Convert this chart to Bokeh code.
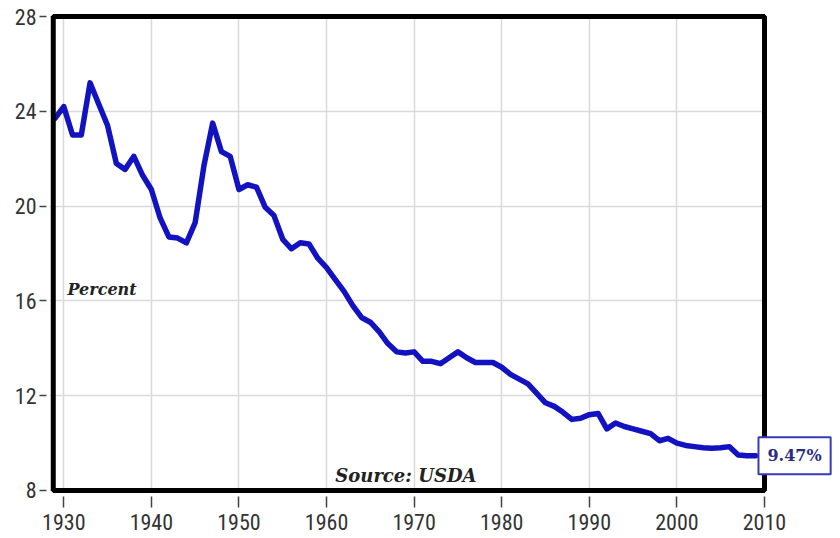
from bokeh.plotting import figure
from bokeh.models import Range1d, FixedTicker, Label, ColumnDataSource, BoxAnnotation
from bokeh.embed import file_html
from bokeh.resources import INLINE

years = list(range(1929, 2010))
percent = [
    23.7, 24.2, 23.0, 23.0, 25.2, 24.3, 23.4, 21.8, 21.55, 22.1,   # 1929-1938
    21.3, 20.7, 19.5, 18.7, 18.65, 18.45, 19.3, 21.7, 23.5, 22.3,  # 1939-1948
    22.1, 20.7, 20.9, 20.8, 19.95, 19.6, 18.6, 18.2, 18.45, 18.4,  # 1949-1958
    17.8, 17.4, 16.9, 16.4, 15.8, 15.3, 15.1, 14.7, 14.2, 13.85,   # 1959-1968
    13.8, 13.85, 13.45, 13.45, 13.35, 13.6, 13.85, 13.6, 13.4, 13.4,  # 1969-1978
    13.4, 13.2, 12.9, 12.7, 12.5, 12.1, 11.7, 11.55, 11.3, 11.0,   # 1979-1988
    11.05, 11.2, 11.25, 10.6, 10.85, 10.7, 10.6, 10.5, 10.4, 10.1, # 1989-1998
    10.2, 10.0, 9.9, 9.85, 9.8, 9.78, 9.8, 9.85, 9.5, 9.47,        # 1999-2008
    9.47,                                                           # 2009
]
x_ticks = [1930, 1940, 1950, 1960, 1970, 1980, 1990, 2000, 2010]
y_ticks = [8, 12, 16, 20, 24, 28]
last_label = "9.47%"
percent_label = "Percent"
source_label = "Source: USDA"

# visible chart box (data extent)
x_lo, x_hi = 1928.8, 2010
y_lo, y_hi = 8, 28

src = ColumnDataSource(dict(year=years, pct=percent))

p = figure(width=840, height=538, output_backend="svg", toolbar_location=None,
           x_range=Range1d(1928.37, 2018.68), y_range=Range1d(7.873, 28.127),
           min_border_left=49, min_border_right=0, min_border_top=13, min_border_bottom=45)
p.background_fill_color = "white"
p.border_fill_color = "white"
p.outline_line_color = None

p.xgrid.ticker = FixedTicker(ticks=x_ticks)
p.ygrid.ticker = FixedTicker(ticks=y_ticks)
for g in (p.xgrid[0], p.ygrid[0]):
    g.grid_line_color = "#d9d9d9"
    g.grid_line_width = 1.5

axis_font = "'Liberation Sans Narrow', 'Roboto Condensed', 'Liberation Sans'"
p.xaxis.ticker = FixedTicker(ticks=x_ticks)
p.yaxis.ticker = FixedTicker(ticks=y_ticks)
for ax in (p.xaxis[0], p.yaxis[0]):
    ax.axis_line_color = None
    ax.minor_tick_line_color = None
    ax.major_tick_line_color = "#444444"
    ax.major_tick_line_width = 1.5
    ax.major_label_text_font = axis_font
    ax.major_label_text_font_size = "22px"
    ax.major_label_text_color = "#333333"
p.xaxis.major_tick_in = -3
p.xaxis.major_tick_out = 14
p.xaxis.major_label_standoff = 6
p.yaxis.major_tick_in = -3
p.yaxis.major_tick_out = 10
p.yaxis.major_label_standoff = 3

p.line("year", "pct", source=src, line_color="#1212c0", line_width=5.5,
       line_join="round", line_cap="round")

# blank out the area right of the chart box, then draw the heavy black box
p.add_layout(BoxAnnotation(left=x_hi, fill_color="white", fill_alpha=1.0,
                           line_color=None))
p.add_layout(BoxAnnotation(left=x_lo, right=x_hi, bottom=y_lo, top=y_hi,
                           fill_color=None, fill_alpha=0, line_color="black",
                           line_width=5, line_alpha=1.0))

p.add_layout(Label(x=1930.42, y=16.48, text=percent_label, text_font="DejaVu Serif",
                   text_font_style="bold italic", text_font_size="16px",
                   text_color="#222222", text_baseline="middle", text_align="left"))
p.add_layout(Label(x=1961.0, y=8.63, text=source_label, text_font="DejaVu Serif",
                   text_font_style="bold italic", text_font_size="18px",
                   text_color="#222222", text_baseline="middle", text_align="left"))
p.add_layout(Label(x=x_hi, y=percent[-1], x_offset=-6, text=last_label,
                   text_font="DejaVu Serif", text_font_style="bold", text_font_size="16px",
                   text_color="#2d2d80", text_baseline="middle", text_align="left",
                   border_line_color="#3a3ab8", border_line_width=2,
                   background_fill_color="white", padding=9))

open("out.html", "w").write(file_html(p, INLINE))
